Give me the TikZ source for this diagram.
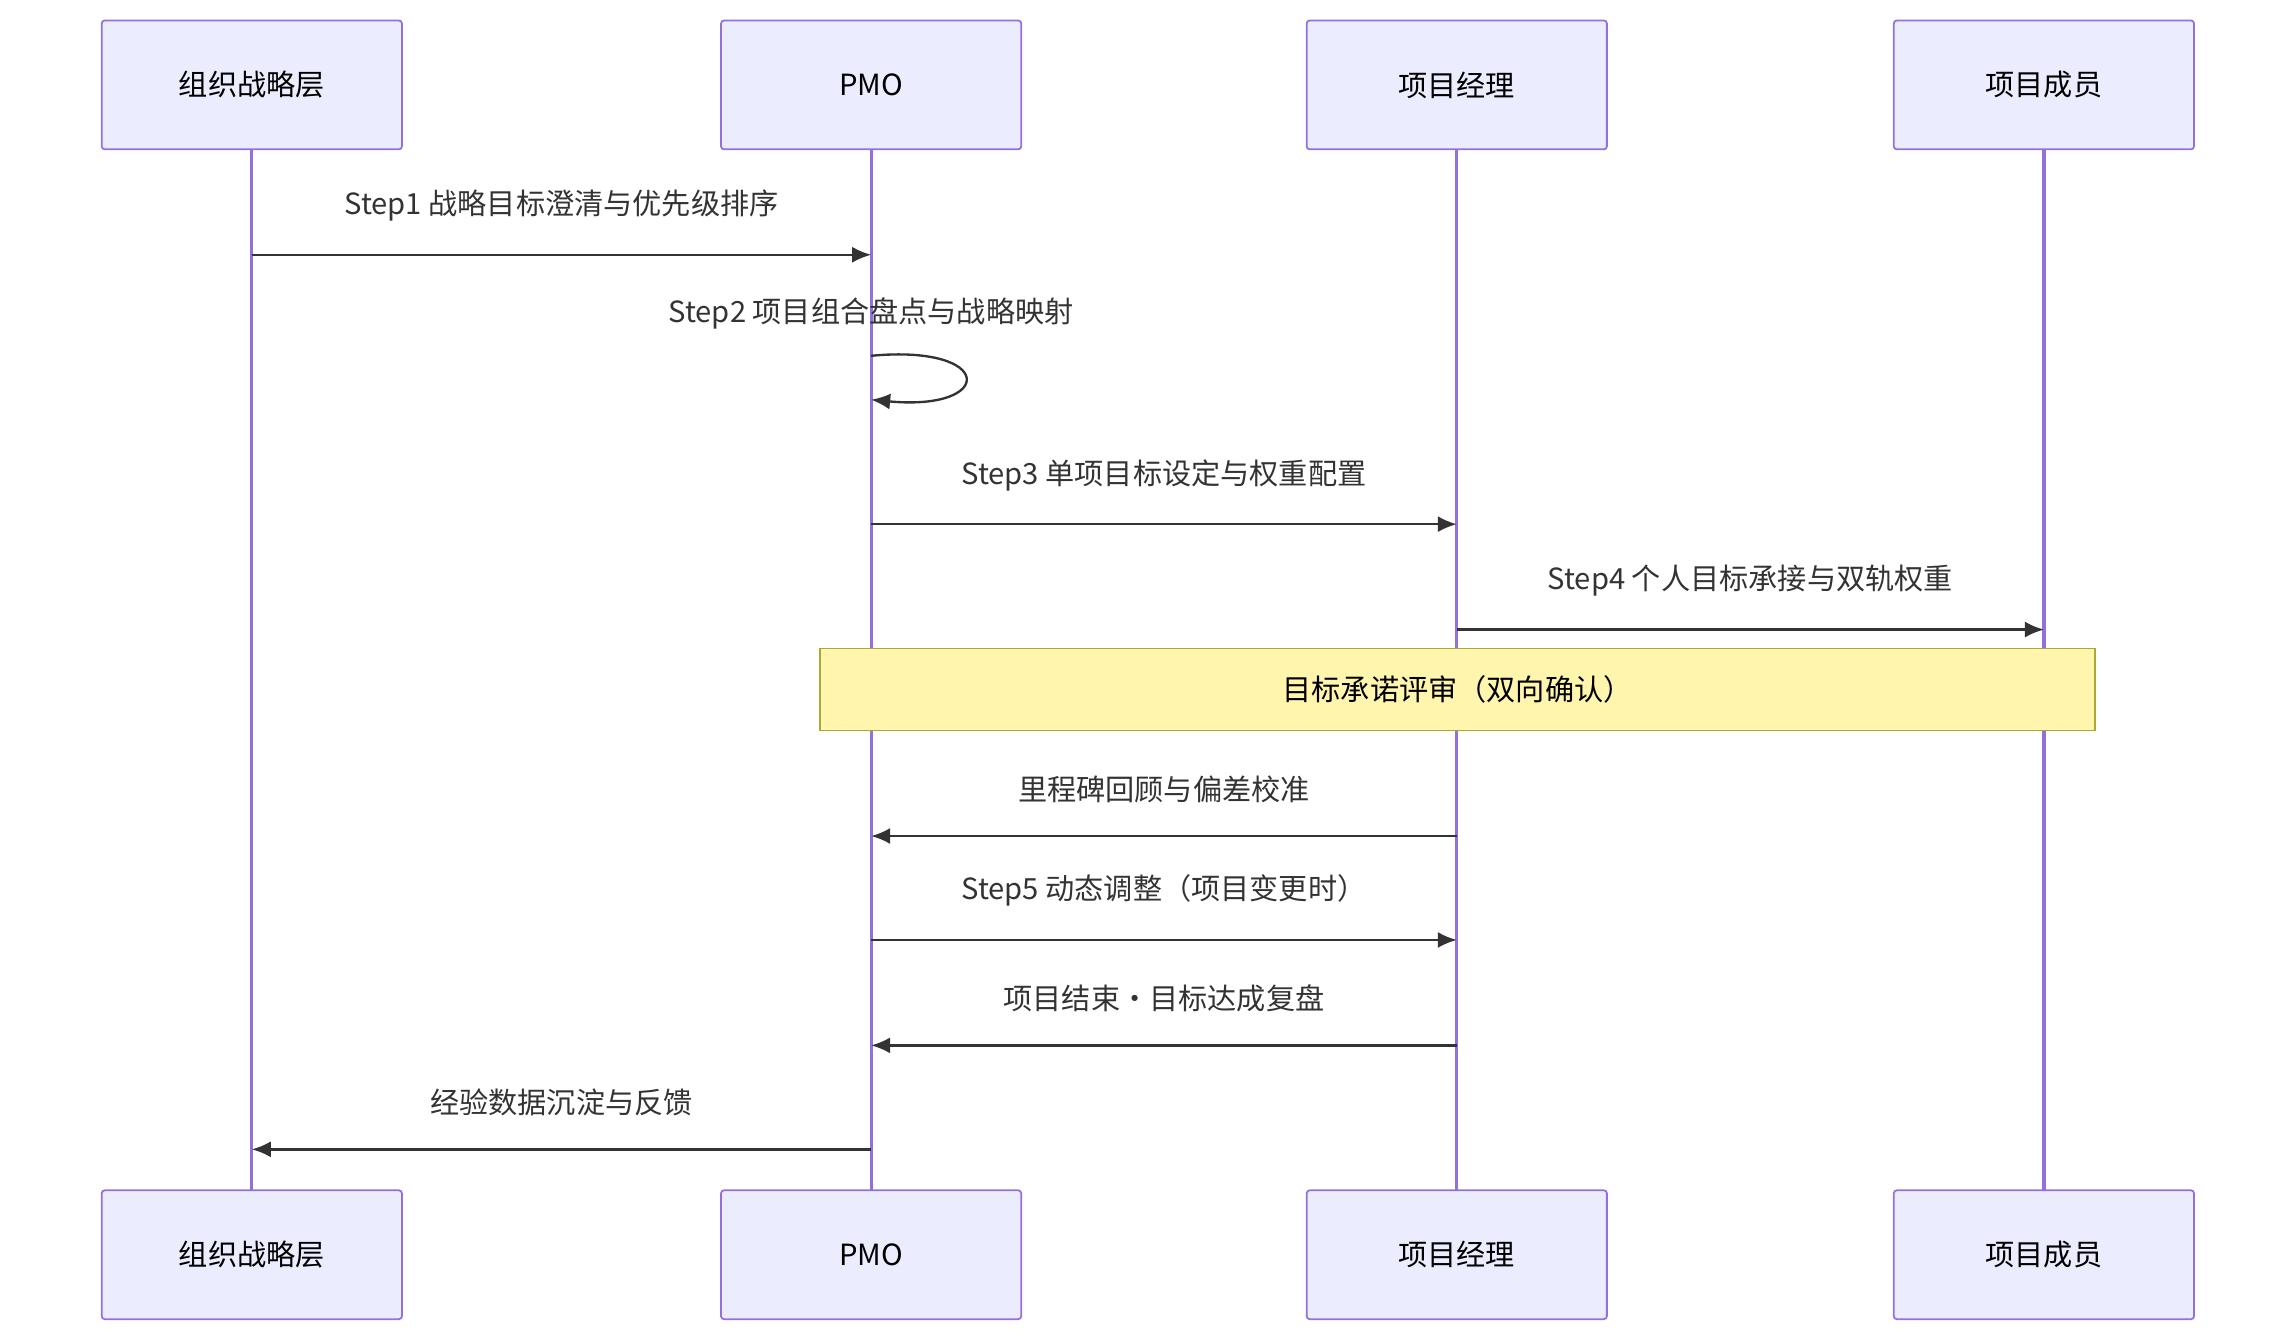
\documentclass[tikz,border=0pt]{standalone}
\usepackage{fontspec}
\setmainfont{Noto Sans CJK SC}
\usetikzlibrary{arrows.meta,positioning}
\definecolor{actorfill}{HTML}{ECECFF}
\definecolor{actorline}{HTML}{9370DB}
\definecolor{notefill}{HTML}{FFF5AD}
\definecolor{noteline}{HTML}{AAAA33}
\definecolor{msgline}{HTML}{333333}
\begin{document}
\begin{tikzpicture}[x=1bp,y=-1bp,font=\fontsize{20}{24}\selectfont,
  actor/.style={draw=actorline, fill=actorfill, line width=1.2bp, rounded corners=2bp, minimum width=205bp, minimum height=88bp, text=black},
  life/.style={actorline, line width=2.2bp},
  msg/.style={msgline, line width=1.6bp, -{Latex[length=13bp,width=11bp]}},
  lbl/.style={text=msgline, inner sep=0pt}]
\useasboundingbox (0,0) rectangle (1560,912);
% Lifelines
\foreach \n/\x/\t in {org/172/组织战略层, pmo/595/PMO/管理层, pm/995/项目经理, mem/1396/项目成员}{
  \draw[life] (\x,102) -- (\x,813);
  \node[actor] (\n top) at (\x,58) {\t};
  \node[actor] (\n bot) at (\x,857) {\t};
  \foreach \y in {174,243,273,358,430,571,642,714,785}
    \coordinate (\n-\y) at (\x,\y);
}
% Messages
\draw[msg] (org-174) -- (pmo-174) node[lbl, midway, above=22bp] {Step1 战略目标澄清与优先级排序};
\node[lbl] (loop label) at (595,214) {Step2 项目组合盘点与战略映射};
\draw[msg] (pmo-243) .. controls (680,235) and (680,281) .. (pmo-273);
\draw[msg] (pmo-358) -- (pm-358) node[lbl, midway, above=22bp] {Step3 单项目标设定与权重配置};
\draw[msg] (pm-430) -- (mem-430) node[lbl, midway, above=22bp] {Step4 个人目标承接与双轨权重};
\node[draw=noteline, fill=notefill, line width=1bp, minimum width=871bp, minimum height=56bp] (review) at (995.5,471) {目标承诺评审（双向确认）};
\draw[msg] (pm-571) -- (pmo-571) node[lbl, midway, above=22bp] {里程碑回顾与偏差校准};
\draw[msg] (pmo-642) -- (pm-642) node[lbl, midway, above=22bp] {Step5 动态调整（项目变更时）};
\draw[msg] (pm-714) -- (pmo-714) node[lbl, midway, above=22bp] {项目结束·目标达成复盘};
\draw[msg] (pmo-785) -- (org-785) node[lbl, midway, above=22bp] {经验数据沉淀与反馈};
\end{tikzpicture}
\end{document}
